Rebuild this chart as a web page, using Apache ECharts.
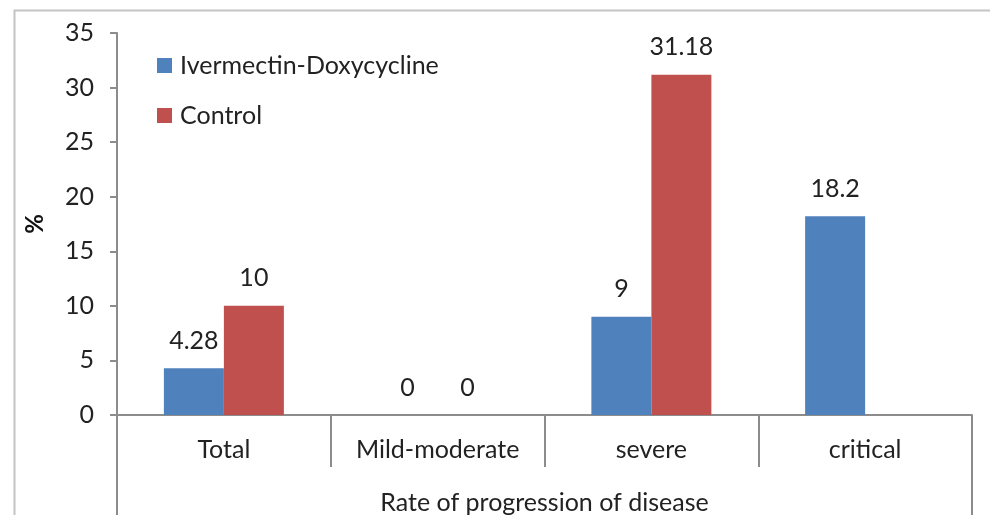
<!DOCTYPE html>
<html>
<head>
<meta charset="utf-8">
<script src="https://cdn.jsdelivr.net/npm/echarts@6/dist/echarts.min.js"></script>
<style>html,body{margin:0;padding:0;background:#fff;}#c{width:990px;height:515px;}</style>
</head>
<body>
<div id="c"></div>
<script>
const categories = ['Total', 'Mild-moderate', 'severe', 'critical'];
const groupLabel = ['Rate of progression of disease'];
const seriesNames = ['Ivermectin-Doxycycline', 'Control'];
const ivermectinValues = [4.28, 0, 9, 18.2];
const controlValues = [10, 0, 31.18, null];
const yTicks = {min: 0, max: 35, interval: 5};

const FONT = 'Lato';
const FS = 25;
const TXT = '#222222';
const AX = '#8c8c8c';
const chart = echarts.init(document.getElementById('c'));
chart.setOption({
  animation: false,
  backgroundColor: '#fff',
  textStyle: {fontFamily: FONT},
  graphic: [{
    type: 'rect', left: 12, top: 8, silent: true,
    shape: {width: 1100, height: 700},
    style: {fill: 'none', stroke: '#c4c4c4', lineWidth: 2}
  }],
  legend: {
    orient: 'vertical', left: 152, top: 48, itemGap: 25,
    itemWidth: 15, itemHeight: 15, icon: 'rect',
    textStyle: {fontFamily: FONT, fontSize: FS, color: TXT, padding: [0, 0, 0, 3]},
    data: seriesNames
  },
  grid: {left: 117, right: 18, top: 33, bottom: 100, containLabel: false},
  xAxis: [{
    type: 'category', data: categories, position: 'bottom',
    axisLine: {lineStyle: {color: AX, width: 2}},
    axisTick: {show: true, interval: 0, length: 52, lineStyle: {color: AX, width: 2}},
    axisLabel: {margin: 22, fontFamily: FONT, fontSize: FS, color: TXT, interval: 0}
  }, {
    type: 'category', data: groupLabel, position: 'bottom', offset: 52,
    axisLine: {show: false},
    axisTick: {show: true, length: 70, lineStyle: {color: AX, width: 2}},
    axisLabel: {margin: 23, fontFamily: FONT, fontSize: FS, color: TXT}
  }],
  yAxis: {
    type: 'value', min: yTicks.min, max: yTicks.max, interval: yTicks.interval,
    name: '%', nameLocation: 'middle', nameGap: 70, nameRotate: 90,
    nameTextStyle: {fontFamily: FONT, fontSize: 24, fontWeight: 'bold', color: '#111'},
    splitLine: {show: false},
    axisLine: {show: true, lineStyle: {color: AX, width: 2}},
    axisTick: {show: true, length: 7, lineStyle: {color: AX, width: 2}},
    axisLabel: {margin: 23, fontFamily: FONT, fontSize: FS, color: TXT}
  },
  series: [{
    name: seriesNames[0], type: 'bar', xAxisIndex: 0, data: ivermectinValues,
    barWidth: 60, barGap: '0%',
    itemStyle: {color: '#4F81BD'},
    label: {show: true, position: 'top', distance: 15, fontFamily: FONT, fontSize: FS, color: TXT}
  }, {
    name: seriesNames[1], type: 'bar', xAxisIndex: 0, data: controlValues,
    barWidth: 60, barGap: '0%',
    itemStyle: {color: '#C0504D'},
    label: {show: true, position: 'top', distance: 15, fontFamily: FONT, fontSize: FS, color: TXT}
  }]
});
</script>
</body>
</html>
